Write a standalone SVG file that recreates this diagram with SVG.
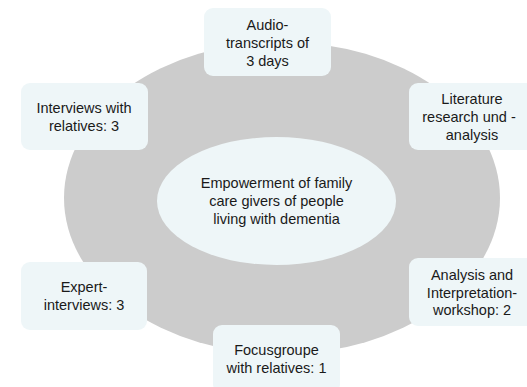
<svg xmlns="http://www.w3.org/2000/svg" width="527" height="387" viewBox="0 0 527 387">
<style>
.box{fill:#eef6f8;stroke:none}
.t{font-family:"Liberation Sans",Arial,sans-serif;font-size:14.5px;fill:#1a1a1a;text-anchor:middle}
</style>
<rect width="527" height="387" fill="#ffffff"/>
<g id="ring"><ellipse cx="282" cy="198" rx="218" ry="156" fill="#cccccc"/></g>
<g id="connectors"></g>
<g id="center">
<ellipse cx="276.5" cy="201" rx="119.5" ry="64" class="box"/>
<text class="t" x="276.5" y="188">Empowerment of family</text>
<text class="t" x="276.5" y="206">care givers of people</text>
<text class="t" x="276.5" y="224">living with dementia</text>
</g>
<g id="audio">
<rect x="204" y="8" width="127" height="68" rx="9" class="box"/>
<text class="t" x="267.5" y="30">Audio-</text>
<text class="t" x="267.5" y="48">transcripts of</text>
<text class="t" x="267.5" y="65.5">3 days</text>
</g>
<g id="literature">
<rect x="409" y="83" width="127" height="67" rx="9" class="box"/>
<text class="t" x="472" y="104">Literature</text>
<text class="t" x="469" y="121.5">research und -</text>
<text class="t" x="472" y="139.5">analysis</text>
</g>
<g id="interviews">
<rect x="21" y="83" width="127" height="67" rx="9" class="box"/>
<text class="t" x="84" y="113">Interviews with</text>
<text class="t" x="84" y="131">relatives: 3</text>
</g>
<g id="expert">
<rect x="21" y="262" width="126" height="68" rx="9" class="box"/>
<text class="t" x="84" y="292">Expert-</text>
<text class="t" x="84" y="310">interviews: 3</text>
</g>
<g id="workshop">
<rect x="409" y="258" width="127" height="68" rx="9" class="box"/>
<text class="t" x="472" y="280">Analysis and</text>
<text class="t" x="472" y="298">Interpretation-</text>
<text class="t" x="472" y="315">workshop: 2</text>
</g>
<g id="focus">
<rect x="213" y="325" width="127" height="68" rx="9" class="box"/>
<text class="t" x="276.5" y="355">Focusgroupe</text>
<text class="t" x="276.5" y="373">with relatives: 1</text>
</g>
</svg>
